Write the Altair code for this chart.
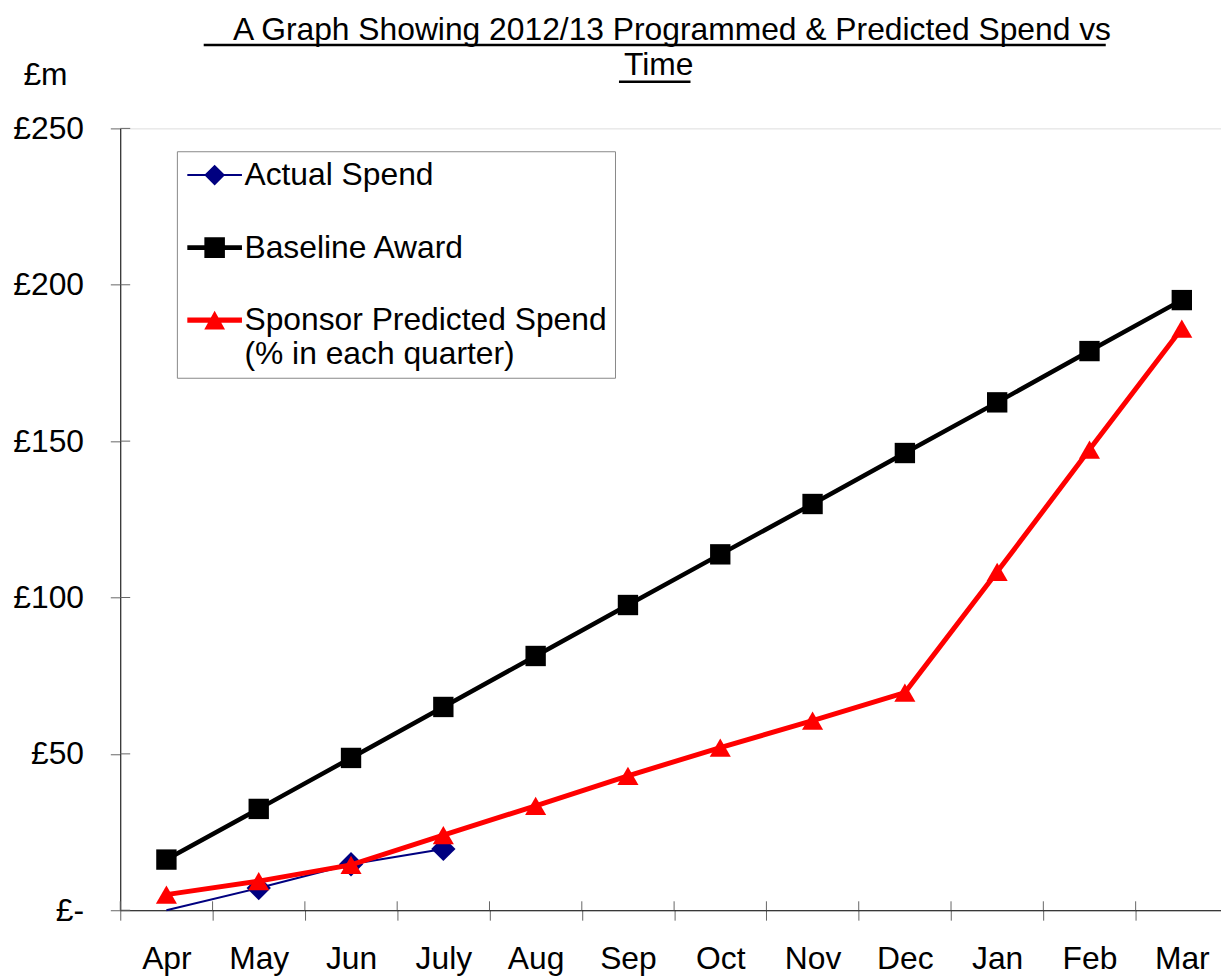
import altair as alt
import pandas as pd

# ---------------- data ----------------
months = ["Apr", "May", "Jun", "July", "Aug", "Sep", "Oct", "Nov", "Dec", "Jan", "Feb", "Mar"]
actual_spend = [0.0, 7.1, 14.7, 19.6]
baseline_award = [16.2, 32.4, 48.7, 65.0, 81.3, 97.6, 113.8, 129.9, 146.2, 162.4, 178.8, 195.1]
sponsor_predicted = [5.0, 9.3, 14.5, 24.0, 33.4, 43.0, 52.0, 60.6, 69.6, 108.2, 147.3, 186.0]
y_ticks = [0, 50, 100, 150, 200, 250]
series_names = ["Actual Spend", "Baseline Award", "Sponsor Predicted Spend"]
series_colors = ["#000080", "#000000", "#FF0000"]
title_lines = ["\u200b\u00a0\u00a0\u00a0A Graph Showing 2012/13 Programmed & Predicted Spend vs", "Time"]

rows = []
for m, v in zip(months, actual_spend):
    rows.append({"month": m, "value": v, "series": series_names[0]})
for m, v in zip(months, baseline_award):
    rows.append({"month": m, "value": v, "series": series_names[1]})
for m, v in zip(months, sponsor_predicted):
    rows.append({"month": m, "value": v, "series": series_names[2]})
df = pd.DataFrame(rows)

FONT = "Liberation Sans"
W, H = 1108, 787
X_RANGE = 1115

x_axis = alt.Axis(
    title=None, labelAngle=0, labelFont=FONT, labelFontSize=32, labelColor="black",
    labelPadding=24, tickSize=10, tickBand="extent", tickColor="#666666", tickWidth=1,
    domainColor="black", domainWidth=1, grid=False, labelOverlap=False,
)
y_axis = alt.Axis(
    values=y_ticks, labelExpr="datum.value == 0 ? '£-' : '£' + datum.value",
    labelFont=FONT, labelFontSize=32, labelColor="black", labelPadding=27,
    tickSize=10, tickColor="#666666", tickWidth=1, domainColor="black", domainWidth=1,
    grid=False, labelFlush=False, labelOverlap=False,
    title="£m", titleAngle=0, titleFont=FONT, titleFontSize=32, titleFontWeight="normal",
    titleColor="black", titleAlign="left", titleBaseline="alphabetic", titleX=-98, titleY=-44,
)
x_scale = alt.Scale(domain=months, range=[0, X_RANGE], paddingInner=0, paddingOuter=0)
y_scale = alt.Scale(domain=[0, 250], nice=False, zero=True)


def X(band=0.5):
    return alt.X("month:N", sort=months, scale=x_scale, axis=x_axis, bandPosition=band)


Y = alt.Y("value:Q", scale=y_scale, axis=y_axis)

# inward halves of the "cross" tick marks
y_tick_rules = alt.Chart(pd.DataFrame({"value": y_ticks})).mark_rule(
    color="#666666", strokeWidth=1
).encode(y=Y, x=alt.value(0), x2=alt.value(10))

x_tick_rules = alt.Chart(pd.DataFrame({"month": months})).mark_rule(
    color="#666666", strokeWidth=1
).encode(x=X(0), y=alt.value(H - 9), y2=alt.value(H))

base = alt.Chart(df)


def series_layers(name, color, width, shape, size, point_filter=None):
    d = base.transform_filter(alt.datum.series == name)
    line = d.mark_line(color=color, strokeWidth=width).encode(x=X(), y=Y)
    p = d
    if point_filter is not None:
        p = p.transform_filter(point_filter)
    pts = p.mark_point(shape=shape, size=size, filled=True, color=color, opacity=1).encode(x=X(), y=Y)
    return [line, pts]


layers = [y_tick_rules, x_tick_rules]
layers += series_layers(series_names[0], series_colors[0], 2, "diamond", 600, "datum.value > 0")
layers += series_layers(series_names[1], series_colors[1], 4.5, "square", 420)
layers += series_layers(series_names[2], series_colors[2], 5, "triangle-up", 450)

# legend symbols: line segment plus marker, as custom paths (unit = 11 px)
legend_paths = [
    "M-2.5,-0.09H2.5V0.09H-2.5Z M0,-0.95L0.95,0L0,0.95L-0.95,0Z",
    "M-2.5,-0.22H2.5V0.22H-2.5Z M-0.94,-0.94H0.94V0.94H-0.94Z",
    "M-2.5,-0.23H2.5V0.23H-2.5Z M0,-0.86L0.95,0.86L-0.95,0.86Z",
]
legend_def = alt.Legend(
    title=None, orient="none", legendX=57, legendY=23,
    labelFont=FONT, labelFontSize=32, labelColor="black", labelLimit=600,
    labelExpr="datum.label == 'Sponsor Predicted Spend' ? ['Sponsor Predicted Spend', '(% in each quarter)'] : datum.label",
    symbolSize=484, symbolStrokeWidth=0, symbolOffset=14, labelOffset=14,
    padding=8, rowPadding=41, strokeColor="#888888", fillColor="white",
    symbolOpacity=1,
)
legend_layer = base.transform_filter("false").mark_point(filled=True, opacity=1).encode(
    color=alt.Color("series:N", scale=alt.Scale(domain=series_names, range=series_colors), legend=legend_def),
    shape=alt.Shape("series:N", scale=alt.Scale(domain=series_names, range=legend_paths), legend=legend_def),
)
layers.append(legend_layer)

# underlines of the title
one = pd.DataFrame({"k": [0]})
ul1 = alt.Chart(one).mark_rule(color="black", strokeWidth=2.5).encode(
    x=alt.value(84), x2=alt.value(992), y=alt.value(-84))
ul2 = alt.Chart(one).mark_rule(color="black", strokeWidth=2.5).encode(
    x=alt.value(502), x2=alt.value(574), y=alt.value(-47))
layers += [ul1, ul2]

chart = alt.layer(*layers).properties(
    width=W, height=H,
    title=alt.Title(
        text=title_lines, anchor="middle", frame="group", font=FONT, fontSize=32,
        fontWeight="normal", color="black", lineHeight=36, dx=-12, dy=49, offset=10,
    ),
    autosize=alt.AutoSizeParams(type="none"),
    padding={"left": 113, "top": 118, "right": 0, "bottom": 63},
).configure_view(stroke=None).configure(background="white")

chart.save("out.html", embed_options={"renderer": "svg", "actions": False})
